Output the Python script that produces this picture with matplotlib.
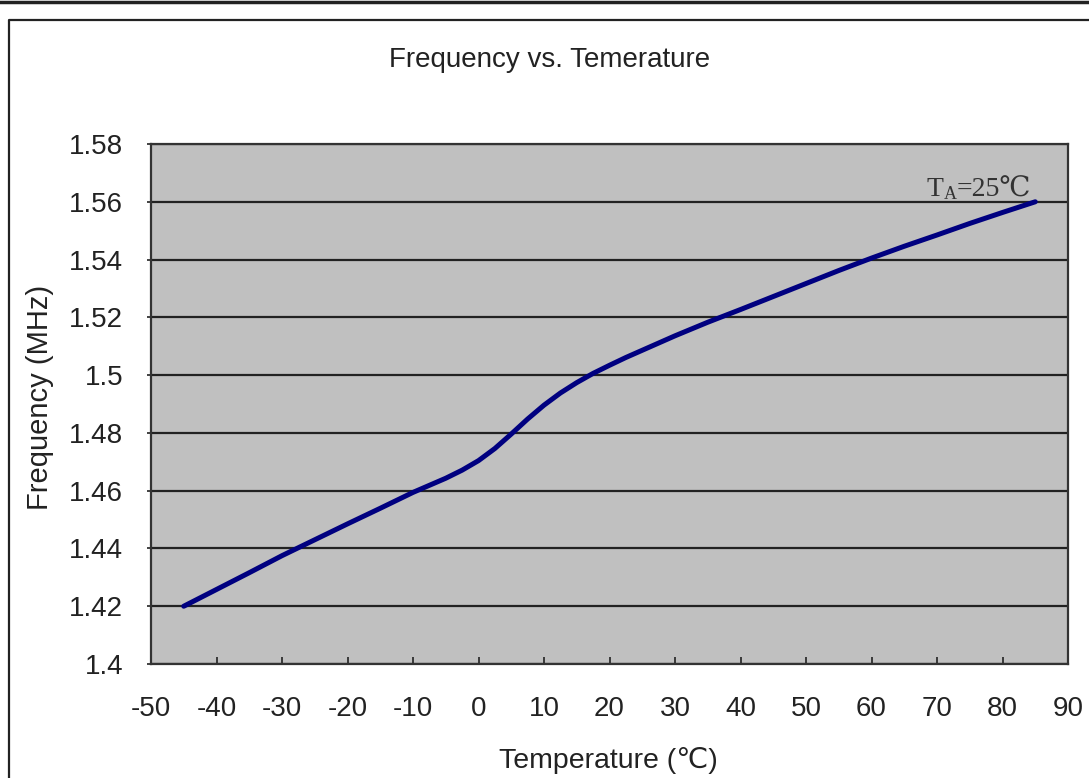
import matplotlib
matplotlib.use("Agg")
import matplotlib.pyplot as plt
from matplotlib.lines import Line2D

temperature = [-45, -40, -35, -30, -25, -20, -15, -10, -5, -2.5, 0, 2.5, 5, 7.5,
               10, 12.5, 15, 17.5, 20, 22.5, 25, 30, 35, 40, 45, 50, 55, 60,
               65, 70, 75, 80, 85]
frequency = [1.4200, 1.4258, 1.4316, 1.4375, 1.4430, 1.4485, 1.4539, 1.4594,
             1.4643, 1.4671, 1.4704, 1.4746, 1.4796, 1.4848, 1.4896, 1.4938,
             1.4974, 1.5006, 1.5034, 1.5061, 1.5086, 1.5136, 1.5183, 1.5227,
             1.5272, 1.5317, 1.5362, 1.5405, 1.5446, 1.5485, 1.5525, 1.5563,
             1.5600]

x_ticks = list(range(-50, 91, 10))
y_ticks = [1.4, 1.42, 1.44, 1.46, 1.48, 1.5, 1.52, 1.54, 1.56, 1.58]
y_tick_labels = ["1.4", "1.42", "1.44", "1.46", "1.48", "1.5", "1.52", "1.54", "1.56", "1.58"]

SANS = ["Liberation Sans", "DejaVu Sans"]
SERIF = ["Liberation Serif", "DejaVu Serif", "DejaVu Sans"]

W, H = 1089, 778
fig = plt.figure(figsize=(W / 100, H / 100), dpi=100)

# frame lines around the chart
fig.add_artist(Line2D([0, 1], [1 - 1.5 / H, 1 - 1.5 / H], color="#222222", lw=2.5))
fig.add_artist(Line2D([9 / W, 9 / W, 1.01], [-0.01, 1 - 20 / H, 1 - 20 / H], color="#222222", lw=1.6))

ax = fig.add_axes([151 / W, (H - 664) / H, (1068 - 151) / W, (664 - 144) / H])
ax.set_facecolor("#C0C0C0")
ax.plot(temperature, frequency, color="#000080", lw=3.6, solid_capstyle="round",
        solid_joinstyle="round")

ax.set_xlim(-50, 90)
ax.set_ylim(1.4, 1.58)
ax.set_xticks(x_ticks)
ax.set_xticklabels([str(t) for t in x_ticks], family=SANS, fontsize=20, color="#222222")
ax.set_yticks(y_ticks)
ax.set_yticklabels(y_tick_labels, family=SANS, fontsize=20, color="#222222")
ax.tick_params(axis="x", direction="in", length=5, width=1.2, pad=23, color="#222222")
ax.tick_params(axis="y", direction="out", length=3, width=1.2, pad=17, color="#222222")
ax.grid(axis="y", color="#222222", lw=1.6)
ax.set_axisbelow(True)
for s in ax.spines.values():
    s.set_color("#333333")
    s.set_linewidth(1.6)

# T_A=25℃ note, built from pieces so the ℃ sign can fall back to another font
t_main = ax.text(68.4, 1.5619, "T", family=SERIF, fontsize=20, color="#333333",
                 ha="left", va="baseline")
t_sub = ax.annotate("A", xy=(1, 0), xycoords=t_main, xytext=(0, -0.5),
                    textcoords="offset points", family=SERIF, fontsize=13,
                    color="#333333", ha="left", va="bottom")
ax.annotate("=25℃", xy=(1, 0), xycoords=(t_sub, t_main), family=SERIF,
            fontsize=20, color="#333333", ha="left", va="bottom")

fig.text(550 / W, 1 - 60 / H, "Frequency vs. Temerature", family=SANS, fontsize=20,
         ha="center", va="center", color="#222222")
fig.text(40 / W, 1 - 397 / H, "Frequency (MHz)", family=SANS, fontsize=21,
         rotation=90, ha="center", va="center", color="#222222")
fig.text(608 / W, 1 - 760 / H, "Temperature (℃)", family=SANS, fontsize=20.5,
         ha="center", va="center", color="#222222")

fig.savefig("out.png", dpi=100)
